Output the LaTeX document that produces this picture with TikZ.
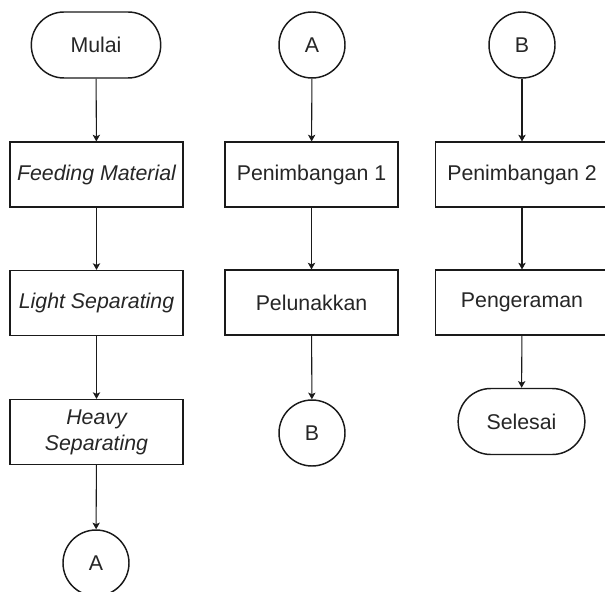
\documentclass[tikz,border=0pt]{standalone}
\usepackage{fontspec}
\setmainfont{Liberation Sans}
\usetikzlibrary{arrows.meta,positioning}
\definecolor{inkdark}{HTML}{1A1A1A}
\definecolor{textgray}{HTML}{262626}
\tikzset{
  proc/.style={draw=inkdark, fill=white, line width=1.1pt,
    minimum width=130pt, minimum height=48.5pt, inner sep=2pt,
    align=center, font=\fontsize{16}{19.5}\selectfont, text=textgray},
  term/.style={proc, rounded corners=24.5pt, minimum width=97pt, minimum height=49.5pt},
  conn/.style={proc, circle, minimum size=49.5pt, inner sep=0pt},
  flow/.style={-{Stealth[length=5pt, width=5.5pt, inset=1.2pt]}, line width=0.8pt, color=inkdark},
}
\begin{document}
\begin{tikzpicture}[x=0.75pt,y=-0.75pt]
  \useasboundingbox (0,0) rectangle (605,591);
  % column one
  \node[term] (mulai) at (96,45) {Mulai};
  \node[proc] (feeding) at (96.5,174.5) {\itshape Feeding Material};
  \node[proc] (light) at (96.5,303) {\itshape Light Separating};
  \node[proc] (heavy) at (96.5,432) {\itshape Heavy\\ \itshape Separating};
  \node[conn] (conA1) at (96,563) {A};
  % column two
  \node[conn] (conA2) at (312,45) {A};
  \node[proc] (timbang1) at (311.5,174.5) {Penimbangan 1};
  \node[proc] (lunak) at (311.5,302.5) {Pelunakkan};
  \node[conn] (conB1) at (312,433) {B};
  % column three
  \node[conn] (conB2) at (522,45) {B};
  \node[proc] (timbang2) at (522,174.5) {Penimbangan 2};
  \node[proc] (peram) at (522,302.5) {Pengeraman};
  \node[term, minimum width=95pt] (selesai) at (521.5,421.5) {Selesai};
  \draw[flow] (mulai) -- (feeding);
  \draw[flow] (feeding) -- (light);
  \draw[flow] (light) -- (heavy);
  \draw[flow] (heavy) -- (conA1);
  \draw[flow] (conA2) -- (timbang1);
  \draw[flow] (timbang1) -- (lunak);
  \draw[flow] (lunak) -- (conB1);
  \draw[flow] (conB2) -- (timbang2);
  \draw[flow] (timbang2) -- (peram);
  \draw[flow] (peram) -- (selesai);
\end{tikzpicture}
\end{document}
